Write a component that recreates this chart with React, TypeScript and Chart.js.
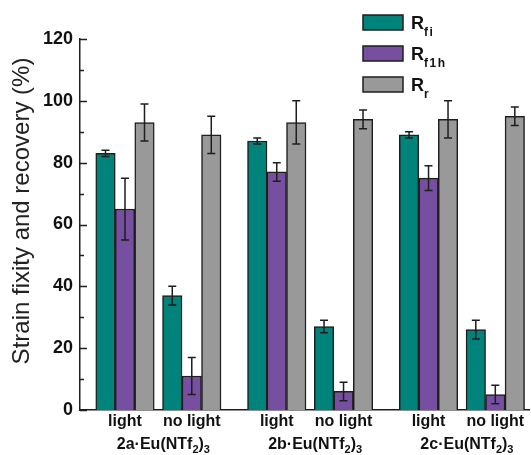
import { useEffect, useRef } from 'react';
import { Chart, registerables } from 'chart.js';

Chart.register(...registerables);

// Samples and illumination conditions
const GROUPS = ['2a', '2b', '2c'];
const CONDITIONS = ['light', 'no light'];

// Values per bar, ordered: 2a light, 2a no light, 2b light, 2b no light, 2c light, 2c no light
const R_FI = [83, 37, 87, 27, 89, 26];
const R_FI_ERR = [1, 3, 1, 2, 1, 3];
const R_F1H = [65, 11, 77, 6, 75, 5];
const R_F1H_ERR = [10, 6, 3, 3, 4, 3];
const R_R = [93, 89, 93, 94, 94, 95];
const R_R_ERR = [6, 6, 7, 3, 6, 3];

const Y_MIN = 0;
const Y_MAX = 120;
const Y_STEP = 20;

const FONT = '"Liberation Sans", Arial, Helvetica, sans-serif';
const INK = '#1e1e1e';

const SERIES = [
  { sub: 'fi', values: R_FI, errors: R_FI_ERR, color: '#00837a' },
  { sub: 'f1h', values: R_F1H, errors: R_F1H_ERR, color: '#774fa1' },
  { sub: 'r', values: R_R, errors: R_R_ERR, color: '#999999' },
];

// the "no light" cluster sits a bit less than half a group to the right of "light"
const CONDITION_SHIFT = 0.44;
const xOf = (i: number) => Math.floor(i / CONDITIONS.length) + (i % CONDITIONS.length) * CONDITION_SHIFT;

const errorBars = {
  id: 'errorBars',
  afterDatasetsDraw(chart: any) {
    const { ctx } = chart;
    const y = chart.scales.y;
    ctx.save();
    ctx.strokeStyle = INK;
    ctx.lineWidth = 1.5;
    chart.data.datasets.forEach((ds: any, di: number) => {
      const meta = chart.getDatasetMeta(di);
      meta.data.forEach((bar: any, i: number) => {
        const v = ds.data[i].y;
        const e = ds.errors[i];
        const top = y.getPixelForValue(v + e);
        const bot = y.getPixelForValue(v - e);
        const cx = bar.x;
        ctx.beginPath();
        ctx.moveTo(cx, top);
        ctx.lineTo(cx, bot);
        ctx.moveTo(cx - 4, top);
        ctx.lineTo(cx + 4, top);
        ctx.moveTo(cx - 4, bot);
        ctx.lineTo(cx + 4, bot);
        ctx.stroke();
      });
    });
    ctx.restore();
  },
};

const innerTicks = {
  id: 'innerTicks',
  afterDraw(chart: any) {
    const { ctx } = chart;
    const y = chart.scales.y;
    const x0 = chart.chartArea.left;
    ctx.save();
    ctx.strokeStyle = INK;
    ctx.lineWidth = 1.5;
    for (let v = Y_MIN; v <= Y_MAX; v += Y_STEP / 2) {
      const py = Math.round(y.getPixelForValue(v)) + 0.5;
      const len = v % Y_STEP === 0 ? 7 : 4;
      ctx.beginPath();
      ctx.moveTo(x0, py);
      ctx.lineTo(x0 + len, py);
      ctx.stroke();
    }
    ctx.restore();
  },
};

// draws runs of [text, isSubscript] starting at x on a baseline
function drawRuns(ctx: CanvasRenderingContext2D, runs: [string, boolean][], x: number, base: number, size: number, subSize: number, subDrop: number, spacing = 0) {
  let cx = x;
  for (const [t, sub] of runs) {
    ctx.font = `bold ${sub ? subSize : size}px ${FONT}`;
    (ctx as any).letterSpacing = sub ? `${spacing}px` : '0px';
    ctx.fillText(t, cx, sub ? base + subDrop : base);
    cx += ctx.measureText(t).width;
  }
  (ctx as any).letterSpacing = '0px';
}

function runsWidth(ctx: CanvasRenderingContext2D, runs: [string, boolean][], size: number, subSize: number) {
  let w = 0;
  for (const [t, sub] of runs) {
    ctx.font = `bold ${sub ? subSize : size}px ${FONT}`;
    w += ctx.measureText(t).width;
  }
  return w;
}

const annotations = {
  id: 'annotations',
  afterDraw(chart: any) {
    const { ctx } = chart;
    const xs = chart.scales.x;
    ctx.save();
    ctx.fillStyle = '#111';
    ctx.textBaseline = 'alphabetic';

    // condition labels under each cluster
    ctx.textAlign = 'center';
    ctx.font = `bold 16px ${FONT}`;
    GROUPS.forEach((_, g) => {
      CONDITIONS.forEach((c, k) => {
        const i = g * CONDITIONS.length + k;
        ctx.fillText(c, xs.getPixelForValue(xOf(i)), 426);
      });
    });

    // sample names
    ctx.textAlign = 'left';
    GROUPS.forEach((name, g) => {
      const runs: [string, boolean][] = [[`${name}\u00b7Eu(NTf`, false], ['2', true], [')', false], ['3', true]];
      const w = runsWidth(ctx, runs, 16, 11);
      const cx = xs.getPixelForValue(g + CONDITION_SHIFT / 2) + 5;
      drawRuns(ctx, runs, cx - w / 2, 449, 16, 11, 4);
    });

    // y axis title
    ctx.save();
    ctx.translate(22, 211);
    ctx.rotate(-Math.PI / 2);
    ctx.textAlign = 'center';
    ctx.textBaseline = 'middle';
    ctx.fillStyle = '#222';
    ctx.font = `24px ${FONT}`;
    ctx.fillText('Strain fixity and recovery (%)', 0, 0);
    ctx.restore();

    // legend
    const boxTops = [15, 46, 77];
    SERIES.forEach((s, k) => {
      const top = boxTops[k];
      ctx.fillStyle = s.color;
      ctx.fillRect(363, top, 40, 15);
      ctx.strokeStyle = INK;
      ctx.lineWidth = 1.5;
      ctx.strokeRect(363, top, 40, 15);
      ctx.fillStyle = '#111';
      ctx.textAlign = 'left';
      drawRuns(ctx, [['R', false], [s.sub, true]], 411, top + 13.5, 18, 12, 7, 1.5);
    });
    ctx.restore();
  },
};

export default function App() {
  const ref = useRef<HTMLCanvasElement>(null);

  useEffect(() => {
    if (!ref.current) return;
    const chart = new Chart(ref.current, {
      type: 'bar',
      data: {
        datasets: SERIES.map((s) => ({
          label: 'R' + s.sub,
          data: s.values.map((v, i) => ({ x: xOf(i), y: v })),
          errors: s.errors,
          backgroundColor: s.color,
          borderColor: INK,
          borderWidth: 1.5,
          barThickness: 19.5,
        })) as any,
      },
      options: {
        responsive: false,
        animation: false,
        layout: { padding: { top: 39, right: 2, left: 0, bottom: 0 } },
        plugins: { legend: { display: false }, tooltip: { enabled: false } },
        scales: {
          x: {
            type: 'linear',
            min: -0.2965,
            max: 2.662,
            offset: false,
            grid: { display: false, drawTicks: false },
            ticks: { display: false },
            border: { display: true, color: INK, width: 1.5 },
            afterFit: (s: any) => { s.height = 45; },
          },
          y: {
            min: Y_MIN,
            max: Y_MAX,
            ticks: { stepSize: Y_STEP, color: '#111', font: { family: FONT, size: 18, weight: 'bold' }, padding: 7 },
            grid: { display: false, drawTicks: false },
            border: { display: true, color: INK, width: 1.5 },
            afterFit: (s: any) => { s.width = 80; },
          },
        },
      } as any,
      plugins: [errorBars, innerTicks, annotations],
    });
    return () => chart.destroy();
  }, []);

  return (
    <div style={{ position: 'absolute', left: 0, top: 0, width: 531, height: 455, background: '#fff' }}>
      <canvas ref={ref} width={531} height={455} style={{ display: 'block' }} />
    </div>
  );
}
